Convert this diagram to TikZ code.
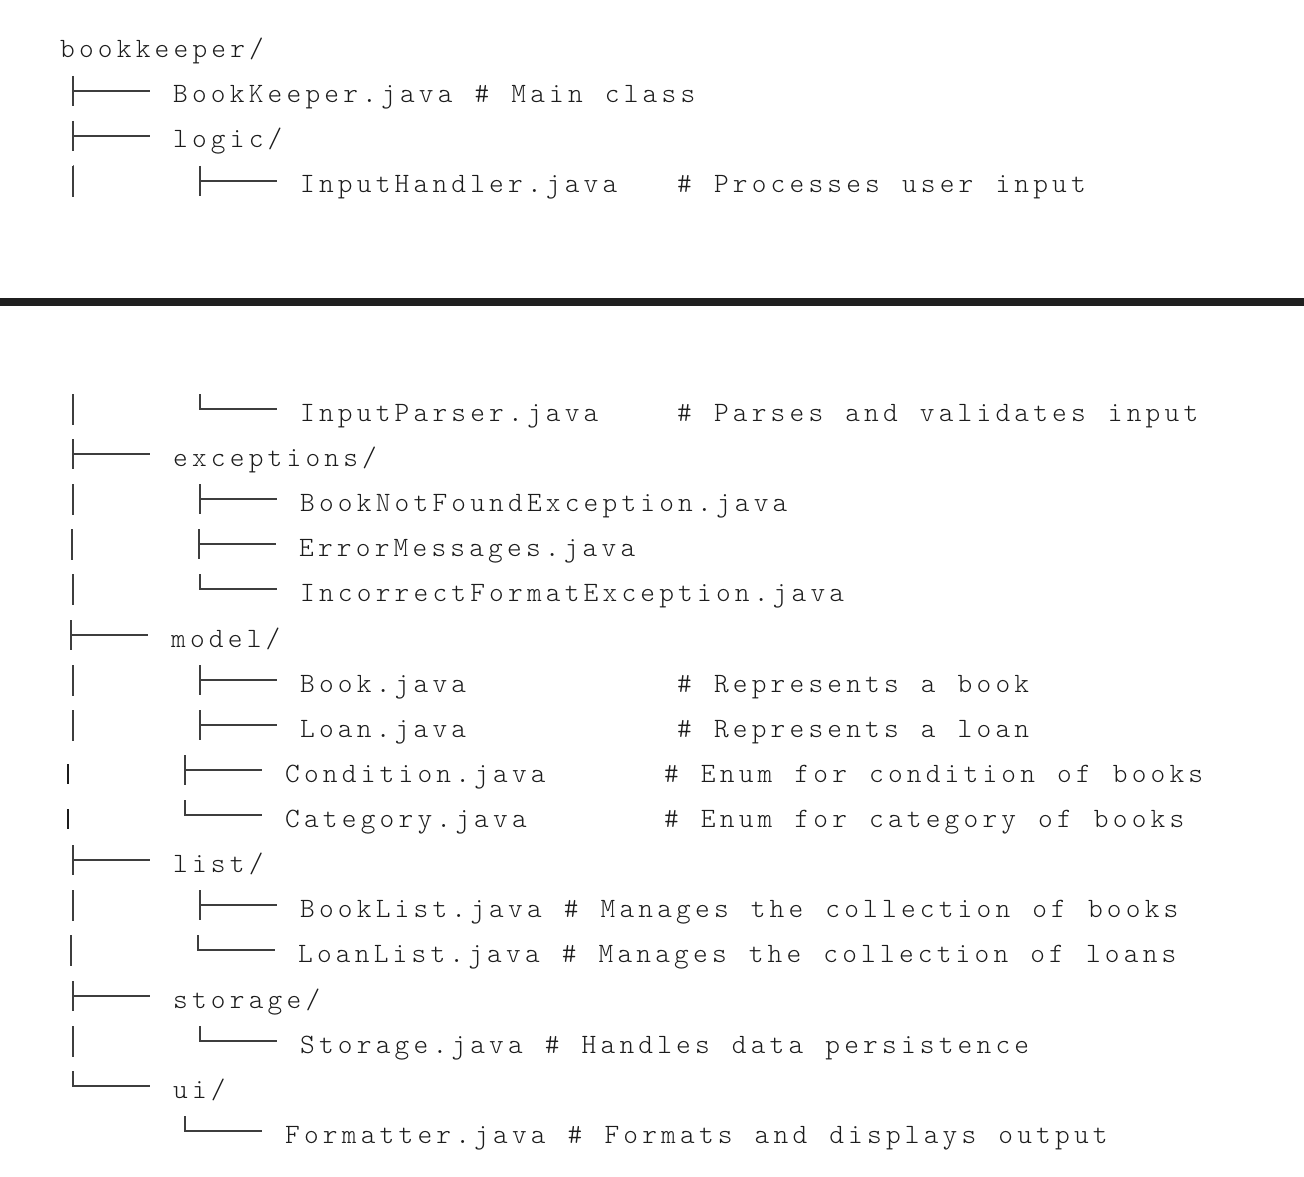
\documentclass[tikz,border=0pt]{standalone}
\usepackage{fontspec}
\usepackage{xcolor}
\usetikzlibrary{calc}

\newfontfamily\spacedtt{lmmonolt10-regular.otf}[LetterSpace=15,WordSpace=1.17]
\definecolor{listgray}{HTML}{1C1C1C}
\newcommand{\treefont}{\fontsize{28pt}{28pt}\spacedtt\selectfont}
\newcommand{\tee}[1]{\draw[branch] ($(#1.base west)+(-100,-27)$) -- ++(0,30) ($(#1.base west)+(-100,-12)$) -- ($(#1.base west)+(-23,-12)$);}
\newcommand{\elbow}[1]{\draw[branch] ($(#1.base west)+(-100,-27)$) -- ++(0,15) -- ($(#1.base west)+(-23,-12)$);}

\tikzset{
	entry/.style={anchor=base west, inner sep=0pt, text=listgray, font=\treefont},
	branch/.style={draw=listgray!85, line width=1.4pt},
	stub/.style={draw=listgray, line width=1.2pt},
}

\begin{document}
\begin{tikzpicture}[x=1pt,y=-1pt]
		\useasboundingbox (0,0) rectangle (1304,1177);
		
		\node[entry] (root) at (60,58) {bookkeeper/};
		\node[entry] (main) at (173,103) {BookKeeper.java \# Main class};
		\node[entry] (logic) at (173,148) {logic/};
		\node[entry] (hand) at (300,193) {InputHandler.java};
		\node[entry] (handc) at (677,193) {\# Processes user input};
		
		\coordinate (cutl) at (0,302);
		\coordinate (cutr) at (1304,302);
		\draw[line width=8pt, black!88] (cutl) -- (cutr);
		
		\node[entry] (pars) at (300,421) {InputParser.java};
		\node[entry] (parsc) at (677,421) {\# Parses and validates input};
		\node[entry] (exc) at (173,466) {exceptions/};
		\node[entry] (bnf) at (300,511) {BookNotFoundException.java};
		\node[entry] (err) at (299,556) {ErrorMessages.java};
		\node[entry] (inc) at (300,601) {IncorrectFormatException.java};
		\node[entry] (model) at (171,647) {model/};
		\node[entry] (book) at (300,692) {Book.java};
		\node[entry] (bookc) at (677,692) {\# Represents a book};
		\node[entry] (loan) at (300,737) {Loan.java};
		\node[entry] (loanc) at (677,737) {\# Represents a loan};
		\node[entry] (cond) at (285,782) {Condition.java};
		\node[entry] (condc) at (664,782) {\# Enum for condition of books};
		\node[entry] (cat) at (285,827) {Category.java};
		\node[entry] (catc) at (664,827) {\# Enum for category of books};
		\node[entry] (list) at (173,872) {list/};
		\node[entry] (blist) at (300,917) {BookList.java \# Manages the collection of books};
		\node[entry] (llist) at (298,962) {LoanList.java \# Manages the collection of loans};
		\node[entry] (store) at (173,1008) {storage/};
		\node[entry] (stor) at (300,1053) {Storage.java \# Handles data persistence};
		\node[entry] (ui) at (173,1098) {ui/};
		\node[entry] (fmt) at (285,1143) {Formatter.java \# Formats and displays output};
		
		\foreach \n in {main,logic,hand,exc,bnf,err,model,book,loan,cond,list,blist,store}
			\tee{\n}
		\foreach \n in {pars,inc,cat,llist,stor,ui,fmt}
			\elbow{\n}
		\foreach \n in {hand,pars,bnf,err,inc,book,loan,blist,llist,stor}
			\draw[branch] ($(\n.base west)+(-227,-27)$) -- ++(0,31);
		\foreach \n in {cond,cat}
			\draw[stub] ($(\n.base west)+(-217,-18)$) -- ++(0,20);
	\end{tikzpicture}
\end{document}
